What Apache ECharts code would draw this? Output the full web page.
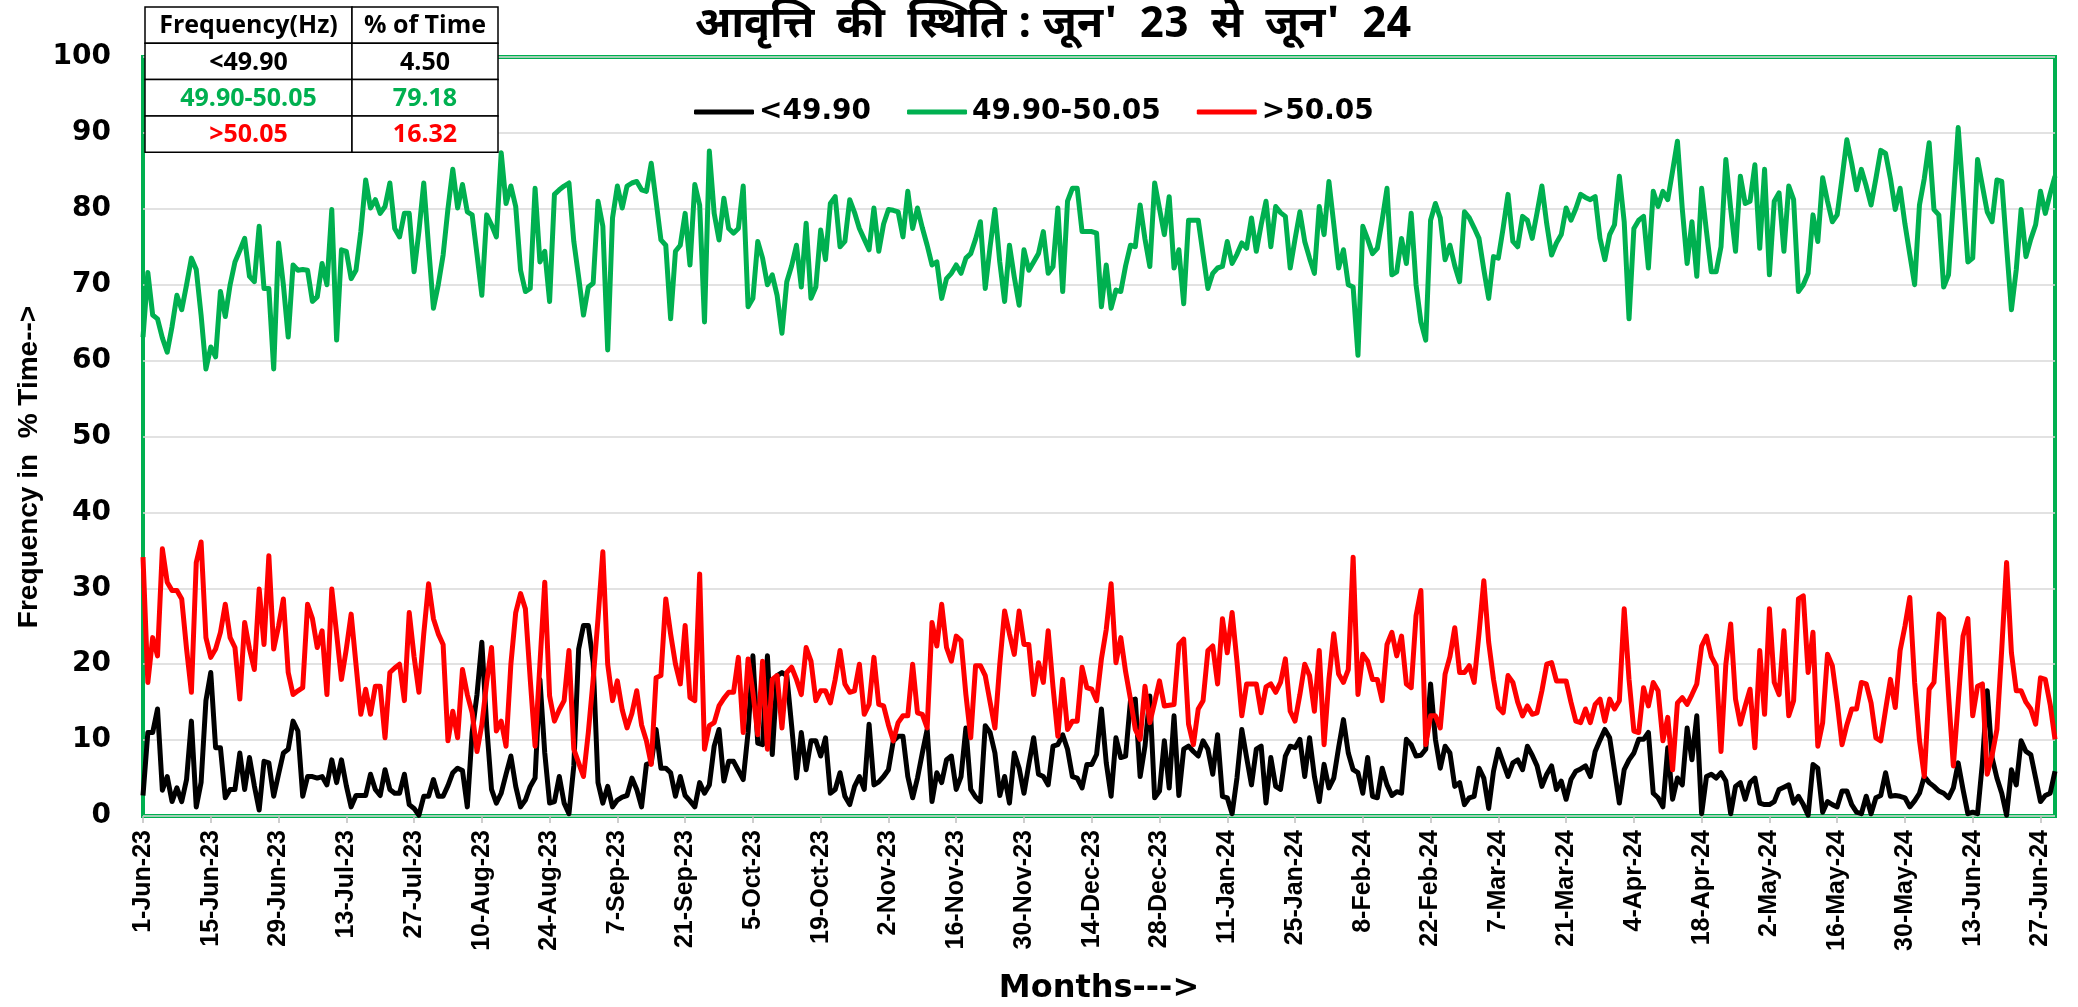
<!DOCTYPE html>
<html>
<head>
<meta charset="utf-8">
<script src="https://cdn.jsdelivr.net/npm/echarts@6/dist/echarts.min.js"></script>
<style>
  html, body { margin: 0; padding: 0; background: #fff; }
  #main { width: 2078px; height: 1007px; }
</style>
</head>
<body>
<div id="main"></div>
<script>
// daily % of time in each frequency band, 1-Jun-23 .. 30-Jun-24
const below4990 = [
  2.7, 11.0, 11.0, 14.1, 3.4, 5.2, 1.9, 3.7, 1.9, 4.8,
  12.5, 1.2, 4.4, 15.2, 18.9, 9.0, 9.0, 2.4, 3.5, 3.5,
  8.3, 3.5, 7.7, 4.0, 0.8, 7.2, 7.0, 2.6, 5.5, 8.3,
  8.8, 12.5, 11.2, 2.6, 5.2, 5.2, 5.0, 5.2, 4.1, 7.4,
  4.4, 7.4, 4.0, 1.2, 2.7, 2.7, 2.7, 5.5, 3.5, 2.7,
  6.1, 3.5, 3.0, 3.0, 5.5, 1.5, 1.0, 0.1, 2.6, 2.6,
  4.8, 2.6, 2.6, 4.0, 5.7, 6.3, 6.0, 1.2, 11.0, 16.0,
  22.9, 11.9, 3.5, 1.7, 3.0, 5.5, 7.9, 3.9, 1.2, 2.1,
  3.9, 5.0, 18.0, 8.3, 1.7, 1.9, 5.2, 1.7, 0.3, 6.6,
  22.0, 25.1, 25.1, 20.2, 4.4, 1.7, 3.9, 1.2, 2.1, 2.5,
  2.7, 5.0, 3.5, 1.2, 6.8, 7.0, 11.4, 6.3, 6.3, 5.7,
  2.6, 5.2, 2.7, 2.0, 1.2, 4.4, 3.0, 4.1, 9.2, 11.4,
  4.6, 7.2, 7.2, 6.0, 4.8, 11.0, 21.1, 9.6, 9.4, 21.1,
  8.1, 18.5, 18.9, 18.5, 11.9, 5.0, 11.0, 6.1, 9.9, 9.9,
  7.9, 10.3, 3.0, 3.5, 5.7, 2.6, 1.5, 3.9, 5.2, 3.5,
  12.1, 4.1, 4.5, 5.2, 6.1, 9.9, 10.5, 10.5, 5.2, 2.4,
  5.0, 8.3, 11.4, 1.9, 5.7, 4.4, 7.4, 7.9, 3.5, 5.2,
  11.6, 3.5, 2.5, 1.9, 11.9, 11.0, 8.3, 2.7, 5.2, 1.7,
  8.3, 6.3, 3.0, 6.8, 10.3, 5.5, 5.2, 4.1, 9.2, 9.4,
  10.7, 8.8, 5.2, 5.0, 3.7, 6.8, 6.8, 8.1, 14.1, 7.0,
  2.6, 10.3, 7.7, 7.9, 15.2, 15.4, 5.2, 9.2, 15.8, 2.4,
  3.3, 9.9, 3.7, 13.2, 2.7, 8.8, 9.2, 8.5, 7.9, 9.9,
  8.8, 5.5, 10.7, 2.6, 2.4, 0.3, 5.0, 11.4, 7.7, 4.1,
  8.8, 9.2, 1.7, 7.7, 3.9, 3.5, 7.9, 9.2, 9.0, 10.1,
  5.2, 10.3, 5.2, 1.9, 6.8, 3.7, 5.0, 9.0, 12.7, 8.3,
  6.1, 5.7, 3.0, 7.7, 2.6, 2.4, 6.3, 4.1, 2.7, 3.2,
  3.0, 10.1, 9.4, 7.9, 8.0, 8.8, 17.4, 10.1, 6.3, 9.2,
  8.3, 3.9, 4.4, 1.5, 2.4, 2.6, 6.3, 5.0, 1.0, 5.9,
  8.8, 7.0, 5.2, 7.0, 7.4, 6.1, 9.2, 8.0, 6.6, 3.9,
  5.5, 6.6, 3.5, 4.6, 2.2, 4.8, 5.9, 6.2, 6.6, 5.2,
  8.5, 10.0, 11.4, 10.3, 6.0, 1.7, 6.1, 7.4, 8.3, 10.1,
  10.1, 11.0, 3.0, 2.4, 1.2, 9.0, 2.2, 5.0, 4.1, 11.6,
  7.4, 13.2, 0.3, 5.2, 5.5, 5.0, 5.7, 4.6, 0.3, 3.9,
  4.4, 2.2, 4.4, 5.0, 1.7, 1.5, 1.5, 1.9, 3.5, 3.8,
  4.1, 1.7, 2.6, 1.5, 0.1, 6.8, 6.3, 0.5, 1.9, 1.5,
  1.2, 3.3, 3.3, 1.5, 0.5, 0.3, 2.6, 0.3, 2.4, 2.7,
  5.7, 2.6, 2.7, 2.6, 2.4, 1.2, 2.0, 3.0, 5.2, 4.4,
  3.9, 3.3, 3.0, 2.4, 3.7, 7.0, 3.5, 0.3, 0.5, 0.3,
  7.0, 16.5, 7.7, 5.0, 3.0, 0.1, 6.1, 4.1, 9.9, 8.5,
  8.1, 5.0, 1.9, 2.7, 3.0, 5.9
];
const band4990to5005 = [
  63.1, 71.6, 66.0, 65.5, 63.0, 61.1, 64.5, 68.6, 66.7, 70.0,
  73.5, 72.0, 66.0, 58.9, 61.8, 60.5, 69.1, 65.8, 70.0, 73.0,
  74.5, 76.1, 71.1, 70.4, 77.7, 69.5, 69.5, 58.9, 75.5, 70.0,
  63.1, 72.6, 71.9, 72.0, 71.9, 67.8, 68.4, 72.8, 70.0, 79.9,
  62.7, 74.6, 74.4, 70.8, 71.9, 77.0, 83.8, 80.1, 81.2, 79.4,
  80.3, 83.4, 77.4, 76.3, 79.4, 79.4, 71.7, 77.0, 83.4, 75.0,
  66.9, 70.0, 73.9, 80.0, 85.2, 80.1, 83.2, 79.6, 79.2, 74.0,
  68.6, 79.2, 77.9, 76.3, 87.4, 80.7, 83.0, 80.3, 71.9, 69.1,
  69.5, 82.7, 73.0, 74.4, 67.8, 81.9, 82.5, 83.0, 83.4, 75.7,
  71.0, 66.0, 69.7, 70.2, 81.0, 77.7, 61.4, 78.8, 83.0, 80.1,
  83.0, 83.4, 83.6, 82.5, 82.3, 86.0, 81.0, 75.9, 75.2, 65.5,
  74.4, 75.2, 79.4, 72.6, 83.2, 80.5, 65.1, 87.6, 79.4, 75.9,
  81.4, 77.4, 76.8, 77.4, 83.0, 67.1, 68.2, 75.7, 73.5, 70.0,
  71.3, 68.6, 63.6, 70.4, 72.5, 75.2, 69.7, 78.1, 68.2, 69.7,
  77.2, 73.3, 80.7, 81.6, 75.0, 75.7, 81.2, 79.5, 77.4, 76.0,
  74.6, 80.1, 74.4, 78.0, 79.9, 79.8, 79.6, 76.3, 82.3, 77.4,
  80.1, 77.5, 75.2, 72.6, 73.0, 68.2, 70.8, 71.5, 72.6, 71.5,
  73.5, 74.1, 76.0, 78.3, 69.5, 75.0, 79.9, 73.0, 67.8, 75.2,
  71.0, 67.3, 74.6, 71.9, 73.0, 74.1, 77.0, 71.5, 72.4, 80.1,
  69.1, 81.0, 82.7, 82.7, 77.0, 77.0, 77.0, 76.8, 67.1, 72.6,
  66.9, 69.3, 69.1, 72.5, 75.2, 75.0, 80.5, 76.0, 72.4, 83.4,
  80.0, 76.6, 81.6, 72.2, 74.6, 67.5, 78.5, 78.5, 78.5, 74.0,
  69.5, 71.5, 72.2, 72.4, 75.7, 72.8, 74.0, 75.5, 74.8, 78.8,
  74.4, 77.9, 81.0, 75.0, 80.3, 79.5, 79.0, 72.2, 76.0, 79.6,
  75.7, 73.5, 71.5, 80.3, 76.6, 83.6, 78.0, 72.2, 74.6, 70.0,
  69.7, 60.7, 77.7, 76.0, 74.1, 74.8, 78.5, 82.7, 71.3, 71.7,
  76.1, 72.8, 79.4, 70.0, 65.1, 62.7, 78.5, 80.7, 78.8, 73.3,
  75.2, 72.5, 70.4, 79.6, 78.8, 77.5, 76.1, 72.0, 68.2, 73.7,
  73.5, 77.5, 81.9, 75.7, 75.0, 79.0, 78.5, 76.1, 79.5, 83.0,
  78.0, 73.9, 75.5, 76.6, 80.1, 78.5, 80.0, 81.9, 81.5, 81.2,
  81.6, 76.1, 73.3, 76.6, 77.9, 84.3, 78.3, 65.5, 77.4, 78.5,
  79.0, 72.2, 82.3, 80.3, 82.3, 81.2, 85.0, 88.9, 80.0, 72.8,
  78.3, 71.1, 82.7, 77.0, 71.7, 71.7, 75.0, 86.5, 80.0, 74.4,
  84.3, 80.7, 81.0, 85.8, 74.8, 85.2, 71.3, 81.0, 82.1, 74.4,
  83.0, 81.2, 69.1, 70.0, 71.5, 79.2, 75.7, 84.1, 81.0, 78.3,
  79.2, 84.0, 89.1, 86.0, 82.5, 85.2, 83.0, 80.5, 84.0, 87.7,
  87.3, 84.0, 79.9, 82.7, 78.0, 74.0, 70.0, 80.5, 84.0, 88.7,
  79.9, 79.2, 69.7, 71.3, 81.0, 90.7, 82.0, 73.0, 73.5, 86.5,
  83.0, 79.6, 78.3, 83.8, 83.6, 75.0, 66.7, 72.0, 79.9, 73.7,
  76.0, 77.9, 82.3, 79.4, 82.0, 84.3
];
const above5005 = [
  34.1, 17.6, 23.5, 21.1, 35.2, 30.8, 29.7, 29.7, 28.6, 22.0,
  16.3, 33.4, 36.1, 23.5, 20.9, 22.0, 24.2, 27.9, 23.5, 22.2,
  15.4, 25.5, 22.0, 19.3, 29.9, 22.6, 34.3, 22.0, 25.0, 28.6,
  18.9, 16.0, 16.5, 16.9, 27.9, 26.0, 22.2, 24.4, 16.0, 29.9,
  24.0, 18.0, 22.0, 26.6, 20.0, 13.4, 16.7, 13.4, 17.1, 17.1,
  10.3, 18.9, 19.5, 20.0, 15.2, 26.8, 21.0, 16.3, 24.0, 30.6,
  26.0, 24.0, 22.6, 9.9, 13.8, 10.3, 19.3, 16.0, 13.6, 8.5,
  12.0, 17.6, 22.2, 11.2, 12.5, 9.2, 20.0, 26.8, 29.3, 27.3,
  18.0, 9.2, 20.0, 30.8, 15.8, 12.5, 14.0, 15.2, 21.8, 8.8,
  7.0, 5.2, 11.0, 18.0, 26.0, 34.8, 20.0, 15.2, 17.8, 14.0,
  11.6, 13.5, 16.5, 12.0, 9.9, 6.8, 18.2, 18.5, 28.6, 24.0,
  20.0, 17.4, 25.1, 15.6, 15.2, 31.9, 8.8, 11.9, 12.3, 14.5,
  15.5, 16.3, 16.3, 20.9, 11.0, 20.7, 16.3, 10.7, 20.4, 8.8,
  18.0, 18.5, 11.6, 18.9, 19.6, 18.0, 16.0, 22.2, 20.4, 15.2,
  16.5, 16.5, 14.9, 18.0, 21.8, 17.4, 16.3, 16.5, 20.0, 13.4,
  14.7, 20.9, 14.7, 14.5, 12.0, 9.9, 12.3, 13.2, 13.2, 20.0,
  13.6, 13.4, 11.6, 25.5, 22.4, 27.9, 22.2, 20.4, 23.7, 23.1,
  16.0, 10.3, 19.8, 19.8, 18.5, 15.0, 11.6, 20.0, 27.0, 24.0,
  21.3, 27.0, 22.6, 22.6, 16.0, 20.2, 17.6, 24.4, 17.0, 10.5,
  18.0, 11.4, 12.5, 12.5, 19.6, 16.9, 16.7, 15.2, 20.7, 24.6,
  30.6, 20.2, 23.5, 19.0, 15.4, 11.4, 10.1, 17.1, 12.3, 15.0,
  17.8, 14.5, 14.6, 14.7, 22.6, 23.3, 12.1, 9.4, 14.1, 15.2,
  21.8, 22.4, 17.4, 26.0, 21.5, 26.8, 20.4, 13.2, 17.4, 17.4,
  17.4, 13.6, 17.0, 17.4, 16.3, 17.6, 20.7, 13.8, 12.5, 16.0,
  20.0, 18.5, 13.8, 21.8, 9.4, 18.0, 24.0, 18.7, 17.6, 19.3,
  34.1, 16.0, 21.3, 20.4, 18.0, 18.0, 15.2, 22.6, 24.2, 21.1,
  23.7, 17.4, 16.9, 26.4, 29.7, 9.4, 13.2, 13.2, 11.6, 18.7,
  21.0, 24.8, 18.9, 18.9, 19.8, 17.6, 24.0, 31.0, 22.9, 18.0,
  14.3, 13.6, 18.5, 17.6, 15.0, 13.2, 14.5, 13.4, 13.6, 16.5,
  20.0, 20.2, 17.8, 17.8, 17.8, 15.0, 12.5, 12.3, 14.1, 12.3,
  14.7, 15.4, 12.5, 15.4, 14.1, 15.2, 27.3, 18.0, 11.2, 11.0,
  16.9, 14.5, 17.6, 16.5, 9.9, 13.0, 6.1, 14.9, 15.6, 14.7,
  16.0, 17.4, 22.4, 23.7, 21.0, 19.8, 8.5, 20.0, 25.3, 15.4,
  12.1, 14.5, 16.7, 9.0, 21.8, 13.4, 27.3, 17.6, 16.0, 24.4,
  13.2, 15.2, 28.6, 29.0, 18.9, 24.2, 9.2, 12.3, 21.3, 19.8,
  15.0, 9.4, 12.0, 14.1, 14.1, 17.6, 17.4, 14.9, 10.3, 9.9,
  14.0, 18.0, 14.3, 21.8, 25.0, 28.8, 17.6, 10.0, 5.2, 16.7,
  17.6, 26.6, 26.0, 16.0, 6.6, 15.0, 23.7, 26.0, 13.2, 17.1,
  17.4, 5.5, 8.0, 11.4, 22.0, 33.4, 21.5, 16.5, 16.5, 15.0,
  14.1, 12.1, 18.2, 18.0, 14.7, 10.1
];

const seriesNames = ["<49.90", "49.90-50.05", ">50.05"];
const seriesColors = ["#000000", "#00B050", "#FF0000"];

// summary table (top-left)
const tableHeader = ["Frequency(Hz)", "% of Time"];
const tableBands = ["<49.90", "49.90-50.05", ">50.05"];
const tablePercent = ["4.50", "79.18", "16.32"];

// day labels 1-Jun-23 ...
const monthNames = ["Jan", "Feb", "Mar", "Apr", "May", "Jun", "Jul", "Aug", "Sep", "Oct", "Nov", "Dec"];
const days = [];
for (let i = 0; i < below4990.length; i++) {
  const d = new Date(2023, 5, 1 + i);
  days.push(d.getDate() + "-" + monthNames[d.getMonth()] + "-" + String(d.getFullYear()).slice(2));
}

const chart = echarts.init(document.getElementById("main"));

// table drawn as graphic
const tX = 145, tY = 7, colW = [207, 146], rowH = 36.3;
const tableEls = [];
const rows = [tableHeader].concat(tableBands.map((b, i) => [b, tablePercent[i]]));
const rowColors = ["#000000", "#000000", "#00B050", "#FF0000"];
rows.forEach((row, r) => {
  let x = tX;
  row.forEach((txt, c) => {
    tableEls.push({
      type: "rect",
      shape: { x: x, y: tY + r * rowH, width: colW[c], height: rowH },
      style: { fill: "#fff", stroke: "#000", lineWidth: 1.5 },
      z: 100
    });
    tableEls.push({
      type: "text",
      style: {
        text: txt,
        x: x + colW[c] / 2,
        y: tY + r * rowH + rowH / 2 + 1,
        textAlign: "center",
        textVerticalAlign: "middle",
        font: 'bold 25px "Open Sans"',
        fill: rowColors[r]
      },
      z: 101
    });
    x += colW[c];
  });
});

// y axis title, placed as in the original (a bit below the plot middle)
tableEls.push({
  type: "text",
  x: 29,
  y: 467,
  rotation: Math.PI / 2,
  style: {
    text: "Frequency in  % Time-->",
    textAlign: "center",
    textVerticalAlign: "middle",
    font: 'bold 28px "Liberation Sans"',
    fill: "#000"
  },
  z: 50
});

chart.setOption({
  animation: false,
  backgroundColor: "#fff",
  title: {
    text: "आवृत्ति  की  स्थिति : जून'  23  से  जून'  24",
    left: 1048,
    textAlign: "center",
    top: 2,
    textStyle: {
      fontSize: 43,
      fontWeight: "bold",
      color: "#000",
      fontFamily: "'Noto Sans Devanagari', 'Noto Sans', sans-serif"
    }
  },
  legend: {
    data: seriesNames,
    left: 689,
    top: 93,
    icon: "roundRect",
    itemWidth: 60,
    itemHeight: 5,
    itemGap: 36,
    textStyle: {
      fontSize: 28,
      fontWeight: "bold",
      color: "#000",
      fontFamily: "DejaVu Sans"
    }
  },
  grid: {
    left: 143,
    right: 23,
    top: 57,
    bottom: 191,
    show: true,
    borderColor: "#00B050",
    borderWidth: 4,
    containLabel: false,
    outerBoundsMode: "none"
  },
  xAxis: {
    type: "category",
    data: days,
    boundaryGap: false,
    name: "Months--->",
    nameLocation: "middle",
    nameGap: 157,
    nameTextStyle: {
      fontSize: 32,
      fontWeight: "bold",
      color: "#000",
      fontFamily: "DejaVu Sans"
    },
    axisLine: { show: false },
    axisTick: {
      show: true,
      interval: 13,
      length: 7,
      lineStyle: { color: "#BFBFBF", width: 1.5 }
    },
    axisLabel: {
      interval: 13,
      rotate: 90,
      margin: 14,
      fontSize: 25,
      fontWeight: "bold",
      color: "#000",
      fontFamily: "Liberation Sans"
    },
    splitLine: { show: false }
  },
  yAxis: {
    type: "value",
    min: 0,
    max: 100,
    interval: 10,
    axisLine: { show: false },
    axisTick: { show: false },
    axisLabel: {
      margin: 32,
      fontSize: 28,
      fontWeight: "bold",
      color: "#000",
      fontFamily: "DejaVu Sans"
    },
    splitLine: { lineStyle: { color: "#D9D9D9", width: 1.5 } }
  },
  series: [below4990, band4990to5005, above5005].map((vals, i) => ({
    name: seriesNames[i],
    type: "line",
    data: vals,
    showSymbol: false,
    symbol: "none",
    lineStyle: { width: 5, color: seriesColors[i], join: "round" },
    itemStyle: { color: seriesColors[i] }
  })),
  graphic: tableEls
});
</script>
</body>
</html>
